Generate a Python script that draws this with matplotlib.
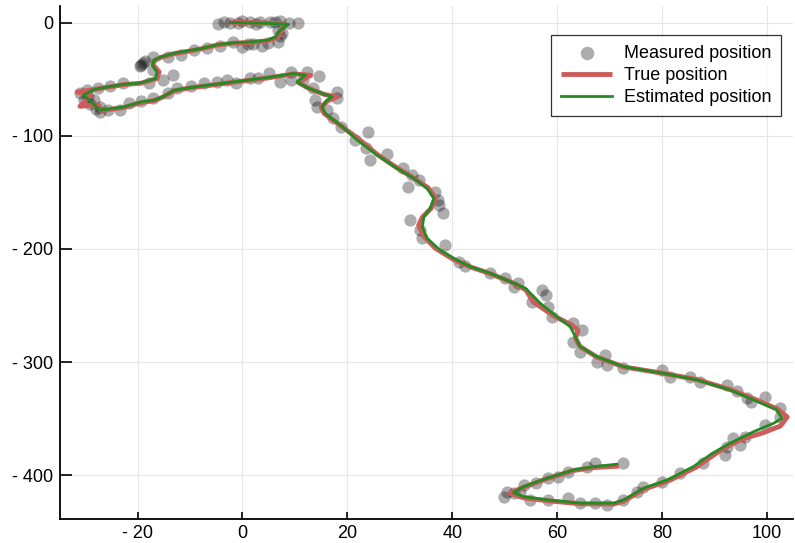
import numpy as np
from matplotlib import pyplot as plt

plt.rcParams['font.family'] = ['Liberation Sans', 'DejaVu Sans']

# true trajectory
true_x = [-2.3, 3.5, 8.0, 7.6, 6.8, 4.9, 1.5, -1.7, -4.8, -8.0, -9.9, -13.2, -15.6, -16.9, -17.0, -15.9,
          -16.3, -19.4, -22.6, -26.4, -28.4, -31.5, -29.0, -31.0, -27.5, -27.0, -22.6, -19.4, -16.9, -15.0,
          -13.1, -9.9, -4.2, -1.7, 4.7, 9.8, 13.0, 10.6, 12.5, 15.5, 18.0, 16.3, 15.0, 15.6, 18.7, 22.2,
          25.7, 29.5, 32.7, 35.4, 36.8, 36.0, 34.3, 33.6, 34.6, 36.8, 40.3, 43.5, 47.3, 51.1, 54.0, 55.5,
          59.5, 62.7, 64.0, 63.5, 64.4, 67.6, 72.7, 80.3, 86.7, 93.0, 97.8, 102.0, 103.9, 102.6, 99.3,
          95.3, 91.5, 86.5, 81.5, 76.5, 72.7, 70.8, 64.4, 58.1, 53.6, 51.0, 53.6, 58.1, 63.2, 67.0, 71.8]
true_y = [0.2, -0.2, -0.8, -6.5, -12.5, -16.0, -17.6, -18.2, -19.8, -23.3, -25.0, -27.6, -30.8, -33.8, -38.0,
          -43.6, -49.5, -53.6, -54.8, -57.6, -59.2, -61.5, -64.5, -74.0, -72.5, -77.8, -75.0, -70.8, -69.0,
          -65.5, -60.3, -57.6, -54.2, -52.7, -49.0, -45.3, -46.6, -52.8, -57.8, -63.3, -65.8, -69.0, -74.5,
          -80.4, -91.0, -103.0, -116.5, -128.5, -137.5, -146.0, -155.0, -164.0, -172.0, -179.0, -189.0,
          -199.5, -209.5, -216.0, -222.0, -229.0, -236.0, -247.0, -259.5, -267.0, -272.0, -279.0, -286.4,
          -295.6, -304.3, -310.0, -315.5, -324.3, -333.0, -341.5, -348.5, -356.5, -362.5, -368.0, -377.0,
          -393.0, -404.5, -412.5, -423.0, -425.5, -425.3, -422.5, -420.0, -416.0, -410.8, -403.0, -395.8,
          -393.2, -392.0]

# estimated trajectory
est_x = [-2.3, 4.0, 8.8, 7.2, 6.3, 4.7, 1.5, -1.7, -4.8, -8.0, -9.9, -13.2, -15.6, -16.9, -17.2, -16.3,
         -16.6, -19.4, -22.6, -26.4, -28.4, -30.3, -27.1, -22.6, -19.4, -16.9, -15.0, -13.1, -9.9, -4.2,
         -1.7, 4.7, 9.8, 12.0, 10.4, 12.3, 15.5, 17.1, 16.1, 15.2, 15.8, 18.7, 21.9, 25.7, 29.5, 32.7,
         35.2, 36.5, 35.8, 34.6, 34.3, 35.2, 37.7, 40.9, 43.5, 47.3, 51.1, 54.0, 56.8, 60.0, 62.5, 63.5,
         64.4, 67.6, 72.7, 80.3, 86.7, 93.0, 97.5, 101.9, 102.9, 101.3, 97.5, 93.0, 89.5, 86.0, 81.0,
         76.5, 72.7, 70.8, 64.4, 58.1, 53.6, 51.7, 53.6, 58.1, 63.2, 67.0, 71.4]
est_y = [0.0, -0.5, -1.5, -6.8, -12.7, -15.6, -17.1, -17.8, -19.5, -23.0, -24.5, -27.2, -30.4, -33.3, -37.7,
         -43.6, -49.5, -53.3, -54.5, -57.4, -59.2, -64.2, -77.4, -74.5, -70.1, -68.6, -65.1, -59.8, -57.4,
         -53.9, -52.4, -48.6, -45.0, -46.5, -52.4, -57.4, -63.3, -65.7, -68.6, -74.5, -80.4, -90.7, -103.9,
         -117.2, -128.9, -137.7, -146.6, -155.4, -164.2, -171.7, -180.5, -190.7, -201.1, -209.9, -215.8,
         -221.6, -229.0, -234.9, -248.1, -260.0, -268.8, -277.6, -286.4, -295.3, -304.1, -310.0, -315.8,
         -324.7, -333.5, -342.3, -349.7, -354.1, -361.5, -371.7, -381.0, -392.4, -404.2, -411.5, -421.8,
         -424.7, -424.7, -421.8, -418.9, -415.4, -410.1, -402.7, -395.3, -392.4, -390.3]

# noisy measurements
meas_x = [-4.6, -2.3, 0.0, 1.5, 3.4, 5.3, 7.2, 8.8, 10.5, -0.8, -3.5, 2.5, 6.2,
          6.7, 7.2, 6.7, 4.8, 2.1, 0.0, -1.9, -4.2, -6.7, -9.3, -11.8, -14.3, -17.0, -18.9, -19.4, -17.0,
          -15.1, -13.2, -17.9, 1.0, 3.8, 7.5, -18.5, -19.6,
          -22.7, -25.2, -27.6, -29.6, -30.9, -30.3, -28.4, -27.1, -27.1, -25.7, -23.3, -21.7, -19.4, -17.0,
          -14.3, -12.4, -9.9, -7.4, -4.8, -2.9, -1.3, 1.5, 2.9, 5.0, 7.2, 9.2, 9.2, 11.6, 12.4, 14.5, 13.5,
          13.9, 14.3, 18.1, 18.1, 16.2, 17.3, 18.7, 21.5, 24.0, 23.5, 24.4, 27.6, 30.7, 32.4, 33.6, 31.5,
          -29.0, -28.0, -29.5,
          36.8, 37.2, 37.4, 38.3, 32.0, 33.9, 34.3, 38.7, 41.2, 42.5, 47.3, 50.1, 51.7, 52.6, 57.2, 57.8,
          55.3, 58.2, 59.1, 63.1, 64.8, 63.1, 64.4, 67.7, 69.2, 69.6, 72.6, 80.1, 81.6, 85.4, 87.3, 92.5,
          94.4, 96.3, 96.9, 99.7, 102.6, 102.6, 99.7, 95.9, 93.6, 94.9, 92.5, 92.1, 87.9, 83.5, 80.1, 76.3,
          75.3, 72.6, 69.6, 67.3, 64.4, 62.0, 58.3, 54.9, 53.0, 51.7, 49.8, 50.5, 53.6, 55.9, 58.2, 60.1,
          62.0, 65.8, 67.3, 72.6]
meas_y = [-0.8, -0.6, 1.5, 0.5, 0.8, 0.5, 1.5, -0.6, -0.6, -0.5, 0.3, -0.8, 0.8,
          -6.8, -12.1, -17.4, -18.3, -19.2, -21.8, -17.4, -20.9, -22.7, -24.5, -28.9, -30.6, -30.6, -35.9,
          -37.5, -42.1, -51.0, -46.5, -53.6, -18.5, -20.5, -9.5, -34.0, -38.0,
          -53.6, -56.3, -58.0, -59.8, -62.4, -68.6, -68.6, -74.8, -79.2, -77.4, -77.4, -71.3, -69.6, -66.9,
          -62.4, -58.0, -56.3, -53.6, -52.7, -51.0, -53.6, -49.2, -49.2, -44.8, -52.7, -43.9, -50.9, -50.9,
          -43.9, -47.4, -58.0, -68.6, -74.8, -61.6, -66.9, -77.4, -84.5, -92.5, -104.0, -96.9, -111.0,
          -121.6, -116.3, -128.6, -134.8, -139.2, -145.4, -72.0, -76.0, -65.0,
          -149.9, -156.9, -161.3, -168.4, -174.6, -183.4,
          -190.4, -196.6, -211.7, -215.2, -221.4, -225.8, -233.7, -230.2, -236.4, -240.8, -247.0, -251.4,
          -260.2, -265.5, -271.7, -282.3, -291.1, -300.0, -293.8, -302.6, -305.3, -307.0, -313.2, -313.2,
          -317.6, -320.3, -325.6, -331.8, -335.3, -330.9, -340.6, -348.5, -355.6, -366.2, -367.1, -373.3,
          -375.1, -382.2, -389.3, -398.2, -406.1, -410.5, -415.0, -422.0, -426.2, -424.5, -424.5, -420.0,
          -421.8, -421.8, -414.7, -415.6, -419.2, -414.7, -408.6, -406.8, -402.4, -401.5, -397.1, -392.7,
          -389.2, -389.2]

xticks = [-20, 0, 20, 40, 60, 80, 100]
yticks = [0, -100, -200, -300, -400]

def tick_text(v):
    return "- %d" % abs(v) if v < 0 else "%d" % v

fig = plt.figure(figsize=(7.95, 5.43), dpi=100)
ax = fig.add_axes([0.0755, 0.0436, 0.922, 0.945])

ax.scatter(meas_x, meas_y, s=78, color='black', alpha=0.32, linewidths=0,
           label='Measured position', zorder=2)
ax.plot(true_x, true_y, color='#cd5c5c', lw=3.5, solid_joinstyle='round',
        solid_capstyle='butt', label='True position', zorder=3)
ax.plot(est_x, est_y, color='#228b22', lw=2.0, solid_joinstyle='round',
        label='Estimated position', zorder=4)

ax.set_xlim(-34.8, 105.0)
ax.set_ylim(-439.0, 14.5)
ax.set_xticks(xticks)
ax.set_xticklabels([tick_text(v) for v in xticks])
ax.set_yticks(yticks)
ax.set_yticklabels([tick_text(v) for v in yticks])

ax.grid(True, color='#e6e6e6', lw=0.8)
ax.set_axisbelow(True)
for side in ['top', 'right']:
    ax.spines[side].set_visible(False)
for side in ['left', 'bottom']:
    ax.spines[side].set_linewidth(1.3)
ax.tick_params(axis='y', direction='in', length=8.5, width=1.2, labelsize=13, pad=5)
ax.tick_params(axis='x', direction='in', length=5, width=1.2, labelsize=13, pad=4)

leg = ax.legend(loc='upper right', bbox_to_anchor=(781 / 795, 1 - 35 / 543),
                bbox_transform=fig.transFigure, fontsize=13, frameon=True,
                fancybox=False, edgecolor='black', handlelength=2.8,
                labelspacing=0.28, borderpad=0.55, handletextpad=0.65,
                borderaxespad=0, markerscale=1.1)
leg.get_frame().set_linewidth(0.9)

fig.savefig('out.png', dpi=100)
